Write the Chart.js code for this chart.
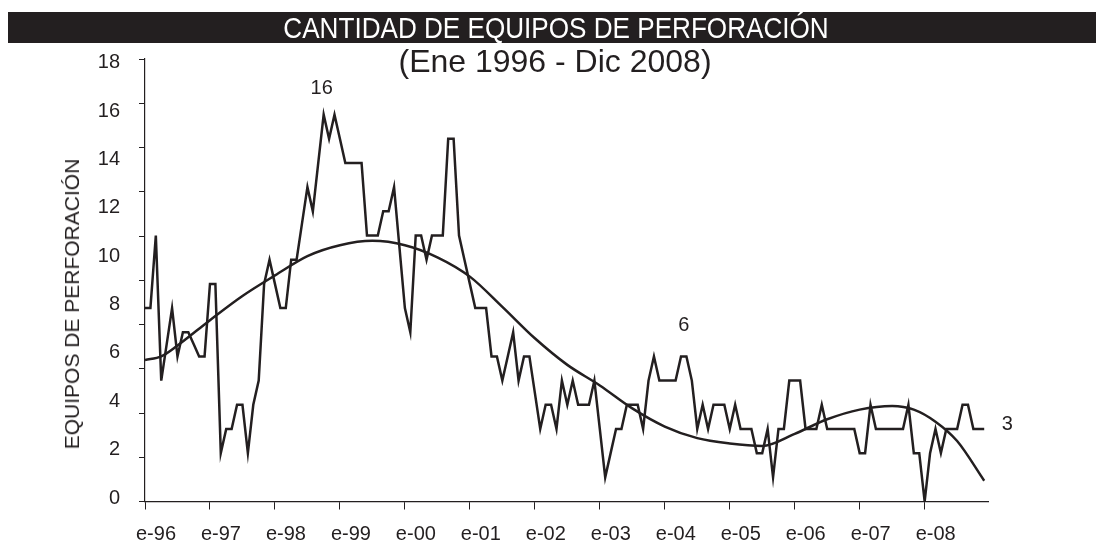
<!DOCTYPE html>
<html>
<head>
<meta charset="utf-8">
<script src="https://cdn.jsdelivr.net/npm/chart.js@4.4.1/dist/chart.umd.min.js"></script>
<style>
  html, body { margin: 0; padding: 0; background: #fff; }
  #wrap { position: relative; width: 1096px; height: 546px; overflow: hidden; font-family: "Liberation Sans", Arial, sans-serif; color: #231f20; }
  #bar { position: absolute; left: 8px; top: 12px; width: 1088px; height: 31px; background: #231f20; }
  #title { position: absolute; left: 556px; top: 27.5px; transform: translate(-50%, -50%) scaleX(0.9); white-space: nowrap; color: #fff; font-size: 29px; line-height: 31px; }
  #subtitle { position: absolute; left: 555px; top: 61px; transform: translate(-50%, -50%); white-space: nowrap; font-size: 32px; line-height: 34px; }
  #ytitle { position: absolute; left: 71.5px; top: 303.5px; transform: translate(-50%, -50%) rotate(-90deg); white-space: nowrap; font-size: 21px; line-height: 22px; }
  canvas { position: absolute; left: 0; top: 0; }
</style>
</head>
<body>
<div id="wrap">
  <canvas id="c" width="1096" height="546"></canvas>
  <div id="bar"></div>
  <div id="title">CANTIDAD DE EQUIPOS DE PERFORACIÓN</div>
  <div id="subtitle">(Ene 1996 - Dic 2008)</div>
  <div id="ytitle">EQUIPOS DE PERFORACIÓN</div>
</div>
<script>
// Monthly rig count, Jan 1996 .. Dec 2008 (156 months)
const rigs = [
  8, 8, 11, 5, 6.5, 8, 6, 7, 7, 6.5, 6, 6,          // 1996
  9, 9, 2, 3, 3, 4, 4, 2, 4, 5, 9, 10,              // 1997
  9, 8, 8, 10, 10, 11.5, 13, 12, 14, 16, 15, 16,    // 1998
  15, 14, 14, 14, 14, 11, 11, 11, 12, 12, 13, 10.5, // 1999
  8, 7, 11, 11, 10, 11, 11, 11, 15, 15, 11, 10,     // 2000
  9, 8, 8, 8, 6, 6, 5, 6, 7, 5, 6, 6,               // 2001
  4.5, 3, 4, 4, 3, 5, 4, 5, 4, 4, 4, 5,             // 2002
  3, 1, 2, 3, 3, 4, 4, 4, 3, 5, 6, 5,               // 2003
  5, 5, 5, 6, 6, 5, 3, 4, 3, 4, 4, 4,               // 2004
  3, 4, 3, 3, 3, 2, 2, 3, 1, 3, 3, 5,               // 2005
  5, 5, 3, 3, 3, 4, 3, 3, 3, 3, 3, 3,               // 2006
  2, 2, 4, 3, 3, 3, 3, 3, 3, 4, 2, 2,               // 2007
  0, 2, 3, 2, 3, 3, 3, 4, 4, 3, 3, 3                // 2008
];
// Trend curve (month index, value)
const trendMonths = [0, 3, 6, 12, 18, 24, 30, 36, 42, 48, 54, 60, 66, 72, 78, 84, 90, 96, 102, 108, 114, 120, 126, 132, 138, 142, 146, 150, 155];
const trendValues = [5.85, 6.0, 6.45, 7.5, 8.5, 9.35, 10.15, 10.6, 10.78, 10.6, 10.1, 9.3, 8.05, 6.75, 5.65, 4.8, 3.85, 3.1, 2.62, 2.4, 2.3, 2.8, 3.4, 3.8, 3.95, 3.8, 3.3, 2.5, 0.86];
// Axis labels
const xTickLabels = ['e-96','e-97','e-98','e-99','e-00','e-01','e-02','e-03','e-04','e-05','e-06','e-07','e-08'];
const yTickLabels = [0, 2, 4, 6, 8, 10, 12, 14, 16, 18];
// Point annotations: [month index, text]
const annotMonths = [33, 99.5, 155];
const annotTexts = ['16', '6', '3'];

const INK = '#231f20';
const X_MAX = 155.7, Y_MAX = 18.3;

const annotPlugin = {
  id: 'annot',
  afterDatasetsDraw(chart) {
    const {ctx, scales} = chart;
    const xs = scales.x, ys = scales.yLab;
    ctx.save();
    ctx.fillStyle = INK;
    ctx.font = '20px "Liberation Sans", Arial, sans-serif';
    ctx.textAlign = 'center';
    ctx.textBaseline = 'middle';
    const offs = [[-2, -26], [0, -31], [23, -4]];
    annotMonths.forEach((m, i) => {
      const lo = Math.floor(m), hi = Math.ceil(m);
      const v = (rigs[lo] + rigs[hi]) / 2;
      const px = xs.getPixelForValue(m) + offs[i][0];
      const py = ys.getPixelForValue(v) + offs[i][1];
      ctx.fillText(annotTexts[i], px, py);
    });
    ctx.restore();
  }
};

new Chart(document.getElementById('c'), {
  type: 'line',
  data: {
    datasets: [
      {
        data: rigs.map((v, i) => ({x: i, y: v})),
        borderColor: INK, borderWidth: 2.5, pointRadius: 0, tension: 0,
        borderJoinStyle: 'miter', yAxisID: 'yLab'
      },
      {
        data: trendMonths.map((m, i) => ({x: m, y: trendValues[i]})),
        borderColor: INK, borderWidth: 2.5, pointRadius: 0,
        cubicInterpolationMode: 'monotone', yAxisID: 'yLab'
      }
    ]
  },
  options: {
    responsive: false, animation: false, devicePixelRatio: 1,
    layout: { padding: { left: 79, right: 108, top: 59, bottom: 0 } },
    plugins: { legend: { display: false }, tooltip: { enabled: false } },
    scales: {
      x: {
        type: 'linear', min: 0, max: X_MAX,
        afterBuildTicks(s) { s.ticks = xTickLabels.map((_, i) => ({value: i * 12})); },
        afterFit(s) { s.height = 44.5; },
        ticks: {
          callback(v) { return xTickLabels[Math.round(v / 12)]; },
          color: INK, font: { size: 20, family: '"Liberation Sans", Arial, sans-serif' },
          padding: 13, labelOffset: 11, maxRotation: 0, autoSkip: false
        },
        grid: { drawOnChartArea: false, tickLength: 8, color: INK, lineWidth: 1 },
        border: { display: true, color: INK, width: 1.2 }
      },
      yTick: {
        type: 'linear', position: 'left', min: 0, max: Y_MAX, weight: 0,
        afterBuildTicks(s) { const t = []; for (let i = 0; i <= 10; i++) t.push({value: Y_MAX * i / 10}); s.ticks = t; },
        afterFit(s) { s.width = 6; },
        ticks: { display: false },
        grid: { drawOnChartArea: false, tickLength: 6, color: INK, lineWidth: 1 },
        border: { display: true, color: INK, width: 1.2 }
      },
      yLab: {
        type: 'linear', position: 'left', min: 0, max: Y_MAX, weight: 10,
        afterBuildTicks(s) { s.ticks = yTickLabels.map(v => ({value: v})); },
        afterFit(s) { s.width = 60; },
        ticks: {
          color: INK, font: { size: 20, family: '"Liberation Sans", Arial, sans-serif' },
          padding: 19, labelOffset: -3.5
        },
        grid: { display: false, drawTicks: false },
        border: { display: false }
      }
    }
  },
  plugins: [annotPlugin]
});
</script>
</body>
</html>
